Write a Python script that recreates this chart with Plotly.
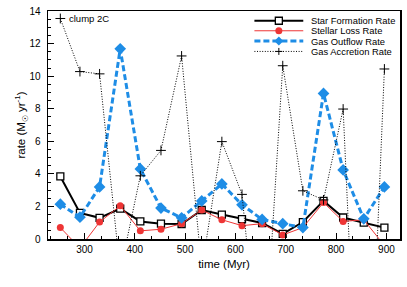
import plotly.graph_objects as go

# ---- data ----
time_myr = [252, 291, 330, 371, 411, 452, 493, 533, 573, 613, 653, 694, 734, 775, 814, 855, 896]
star_formation = [3.84, 1.6, 1.3, 1.86, 1.08, 0.94, 0.92, 1.78, 1.5, 1.22, 0.98, 0.32, 1.04, 2.34, 1.32, 1.0, 0.7]
stellar_loss = [0.7, -0.55, 1.04, 2.04, 0.5, 0.6, 0.94, 1.78, 1.18, 0.82, 0.94, 0.25, 0.7, 2.24, 1.08, 1.18, -0.4]
gas_outflow = [2.14, 1.34, 3.2, 11.68, 4.3, 1.9, 1.3, 2.34, 3.38, 2.1, 1.2, 0.94, 0.7, 8.94, 4.24, 1.24, 3.2]
gas_accretion = [13.54, 10.28, 10.14, -2.0, 3.88, 5.44, 11.24, -1.85, 5.98, 2.74, -9.7, 10.64, 2.96, 2.4, 7.98, -20.0, 10.44]

series_names = ["Star Formation Rate", "Stellar Loss Rate", "Gas Outflow Rate", "Gas Accretion Rate"]
x_tick_vals = [300, 400, 500, 600, 700, 800, 900]
y_tick_vals = [0, 2, 4, 6, 8, 10, 12, 14]

BLACK = "#000000"
RED = "#ee3535"
BLUE = "#1e8de6"
FONT = "Liberation Sans, Arial, Helvetica, sans-serif"

W, H = 407, 287
ML, MR, MT, MB = 48, 6, 5, 48
PW, PH = W - ML - MR, H - MT - MB

fig = go.Figure()
fig.add_trace(go.Scatter(x=time_myr, y=star_formation, mode="lines+markers", name=series_names[0],
                         line=dict(color=BLACK, width=2),
                         marker=dict(symbol="square", size=7, color="white", line=dict(color=BLACK, width=1.3))))
fig.add_trace(go.Scatter(x=time_myr, y=stellar_loss, mode="lines+markers", name=series_names[1],
                         line=dict(color=RED, width=1),
                         marker=dict(symbol="circle", size=7, color=RED, line=dict(width=0))))
fig.add_trace(go.Scatter(x=time_myr, y=gas_outflow, mode="lines+markers", name=series_names[2],
                         line=dict(color=BLUE, width=3, dash="6px,3px"),
                         marker=dict(symbol="diamond", size=9, color=BLUE, line=dict(width=0))))
fig.add_trace(go.Scatter(x=time_myr, y=gas_accretion, mode="lines+markers", name=series_names[3],
                         line=dict(color=BLACK, width=1, dash="1px,1.6px"),
                         marker=dict(symbol="cross-thin", size=7, color=BLACK, line=dict(color=BLACK, width=1))))


def px_x(px):
    return (px - ML) / PW


def px_y(py):
    return (MT + PH - py) / PH


# ---- manual legend (compact, like the reference) ----
rows_y = [15, 25.3, 35.8, 46.5]
lx0, lx1, lmid, ltext = 255, 304, 279.5, 310
line_styles = [dict(color=BLACK, width=2), dict(color=RED, width=1),
               dict(color=BLUE, width=3, dash="6px,3px"), dict(color=BLACK, width=1, dash="1px,1.6px")]
shapes = []
annotations = []
for i, name in enumerate(series_names):
    yy = px_y(rows_y[i])
    shapes.append(dict(type="line", xref="paper", yref="paper", x0=px_x(lx0), x1=px_x(lx1), y0=yy, y1=yy,
                       line=line_styles[i], layer="above"))
    annotations.append(dict(text=name, xref="paper", yref="paper", x=px_x(ltext), y=yy,
                            xanchor="left", yanchor="middle", showarrow=False,
                            font=dict(size=9.4, color=BLACK, family=FONT)))
xm = px_x(lmid)
common = dict(xref="paper", yref="paper", xsizemode="pixel", ysizemode="pixel", xanchor=xm, layer="above")
shapes.append(dict(type="rect", yanchor=px_y(rows_y[0]), x0=-3.5, x1=3.5, y0=-3.5, y1=3.5,
                   fillcolor="white", line=dict(color=BLACK, width=1.3), **common))
shapes.append(dict(type="circle", yanchor=px_y(rows_y[1]), x0=-3.5, x1=3.5, y0=-3.5, y1=3.5,
                   fillcolor=RED, line=dict(width=0), **common))
shapes.append(dict(type="path", yanchor=px_y(rows_y[2]), path="M0,-4.5L4.5,0L0,4.5L-4.5,0Z",
                   fillcolor=BLUE, line=dict(width=0), **common))
shapes.append(dict(type="path", yanchor=px_y(rows_y[3]), path="M-3.5,0H3.5M0,-3.5V3.5",
                   line=dict(color=BLACK, width=1), **common))

annotations.append(dict(text="clump 2C", xref="x", yref="y", x=265.5, y=13.55, xanchor="left",
                        yanchor="middle", showarrow=False, font=dict(size=9.5, color=BLACK, family=FONT)))

axis_common = dict(showgrid=False, zeroline=False, showline=True, linecolor=BLACK, linewidth=1.5,
                   mirror=True, ticks="inside", ticklen=6, tickwidth=1, tickcolor=BLACK,
                   tickfont=dict(size=10, color=BLACK, family=FONT))

fig.update_layout(
    width=W, height=H,
    margin=dict(l=ML, r=MR, t=MT, b=MB),
    paper_bgcolor="white", plot_bgcolor="white",
    showlegend=False,
    font=dict(family=FONT, color=BLACK),
    shapes=shapes,
    annotations=annotations,
    xaxis=dict(range=[227.5, 927], tickvals=x_tick_vals,
               minor=dict(ticks="inside", dtick=100 / 3, tick0=0, ticklen=3, tickcolor=BLACK),
               title=dict(text="time (Myr)", font=dict(size=11.5, family=FONT), standoff=6),
               **axis_common),
    yaxis=dict(range=[0, 14], tickvals=y_tick_vals,
               minor=dict(ticks="inside", dtick=0.5, tick0=0, ticklen=3, tickcolor=BLACK),
               title=dict(text="rate (M<sub>☉</sub> yr<sup>-1</sup>)", font=dict(size=11.5, family=FONT), standoff=1),
               ticklabelstandoff=4,
               **axis_common),
)

fig.write_html(
    "out.html",
    config={"displayModeBar": False, "staticPlot": True},
    post_script=("document.documentElement.style.overflow='hidden';"
                 "document.body.style.overflow='hidden';"
                 "document.body.style.margin='0';document.body.style.padding='0';"),
)
